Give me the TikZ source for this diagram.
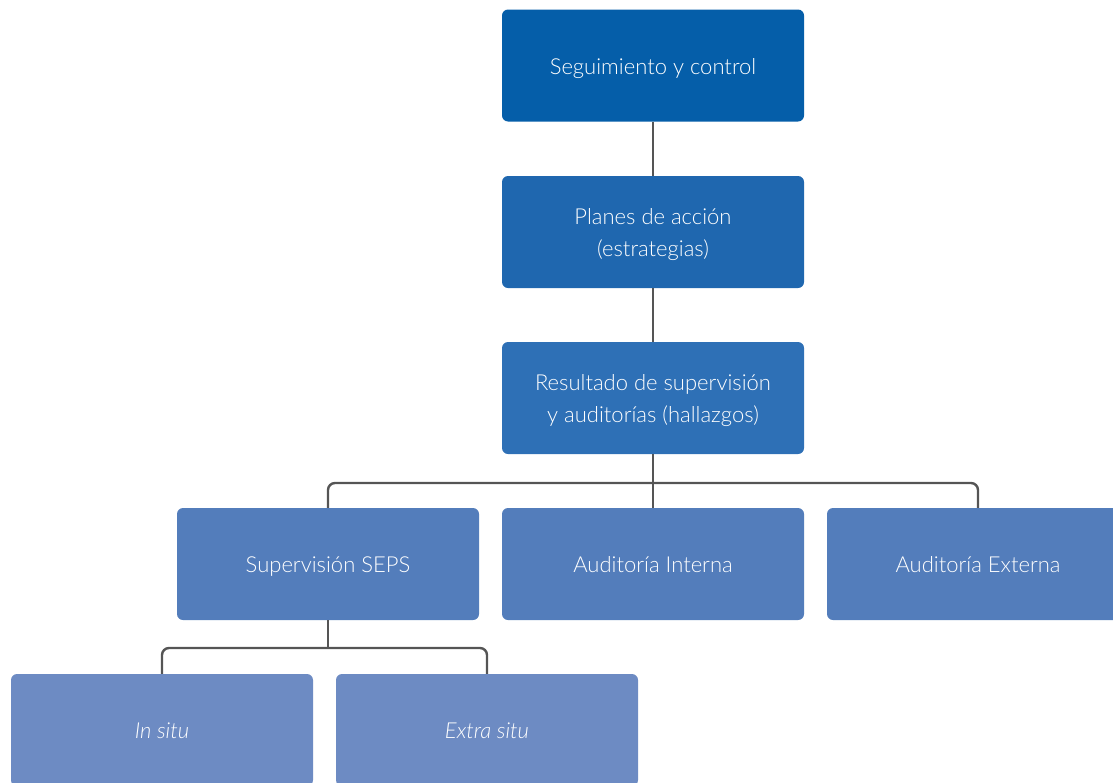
\documentclass[tikz,border=0pt]{standalone}
\usepackage{fontspec}
\setmainfont{Lato}[UprightFont=* Light, ItalicFont=* Light Italic]
\usepackage{tikz}
\usepackage{xcolor}
\usetikzlibrary{positioning}
\usetikzlibrary{calc}

\definecolor{nivelA}{HTML}{055EA9}
\definecolor{nivelB}{HTML}{1F67AF}
\definecolor{nivelC}{HTML}{2E70B6}
\definecolor{nivelD}{HTML}{537DBB}
\definecolor{nivelE}{HTML}{6D8BC3}
\definecolor{linea}{HTML}{555555}

\tikzset{
	caja/.style={rectangle, rounded corners=6pt, minimum width=302pt, minimum height=112pt,
		inner sep=0pt, text=white, align=center, font=\fontsize{22}{32}\selectfont,
		text height=17pt, text depth=0pt},
	doble/.style={text height=49pt},
	enlace/.style={draw=linea, line width=2.4pt, rounded corners=7pt}
}

\begin{document}
\begin{tikzpicture}[x=1pt, y=-1pt]
			\useasboundingbox (0,0) rectangle (1113,782);
			\clip (0,0) rectangle (1113,782);
			
			\node[caja, fill=nivelA] (seg) at (653, 65.5) {Seguimiento y control};
			\node[caja, doble, fill=nivelB] (plan) at (653, 232) {Planes de acción\\(estrategias)};
			\node[caja, doble, fill=nivelC] (res) at (653, 398) {Resultado de supervisión\\y auditorías (hallazgos)};
			
			\node[caja, fill=nivelD] (sup) at (328, 564) {Supervisión SEPS};
			\node[caja, fill=nivelD] (aint) at (653, 564) {Auditoría Interna};
			\node[caja, fill=nivelD] (aext) at (978, 564) {Auditoría Externa};
			
			\node[caja, fill=nivelE] (insitu) at (162, 730) {\itshape In situ};
			\node[caja, fill=nivelE] (extra) at (487, 730) {\itshape Extra situ};
			
			\coordinate (j1) at (653, 483);
			\coordinate (j2) at (328, 648);
			
			%  for seg
			\draw[enlace] (seg) -- (plan);
			%  for plan
			\draw[enlace] (plan) -- (res);
			%  for res
			\draw[enlace] (res) -- (aint);
			\draw[enlace] (sup.north) |- (j1) -| (aext.north);
			%  for sup
			\draw[enlace] (sup) -- (j2);
			\draw[enlace] (insitu.north) |- (j2) -| (extra.north);
		\end{tikzpicture}
\end{document}
